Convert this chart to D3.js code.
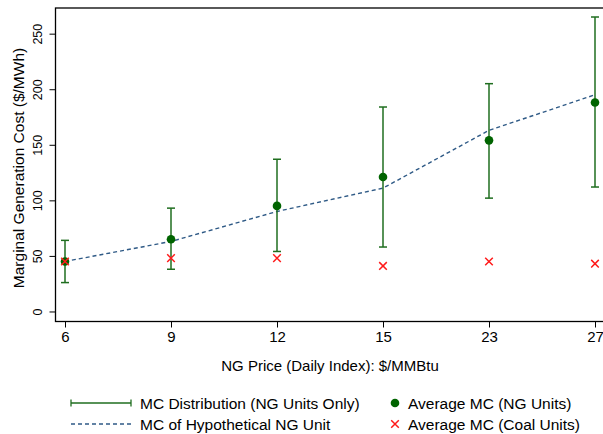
<!DOCTYPE html>
<html>
<head>
<meta charset="utf-8">
<script src="https://cdn.jsdelivr.net/npm/d3@7"></script>
<style>
  html, body { margin: 0; padding: 0; background: #fff; }
  svg { display: block; font-family: "Liberation Sans", Arial, Helvetica, sans-serif; }
</style>
</head>
<body>
<svg id="chart" width="603" height="434"></svg>
<script>
// ---- data ----
const categories = ["6", "9", "12", "15", "23", "27"];
const avgNG = [45, 65, 95, 121, 154, 188];
const avgCoal = [45, 48, 48, 41, 45, 43];
const hypotheticalNG = [45, 63, 90, 111, 163, 195];
const distLow = [26, 38, 54, 58, 102, 112];
const distHigh = [64, 93, 137, 184, 205, 265];
const yTicks = [0, 50, 100, 150, 200, 250];
const legendLabels = ["MC Distribution (NG Units Only)", "MC of Hypothetical NG Unit", "Average MC (NG Units)", "Average MC (Coal Units)"];

const svg = d3.select("#chart");
const plot = { left: 55.5, top: 8, right: 612, bottom: 321.5 };

const x = d3.scalePoint().domain(categories).range([65, 595]);
const y = d3.scaleLinear().domain([-9.2, 273.1]).range([321.7, 8]);

const green = "#1f6e1f", dotGreen = "#006400", red = "#ff1a1a", blue = "#2f5a86";

// frame
svg.append("rect")
  .attr("x", plot.left).attr("y", plot.top)
  .attr("width", plot.right - plot.left).attr("height", plot.bottom - plot.top)
  .attr("fill", "none").attr("stroke", "#000").attr("stroke-width", 1.3);

// y axis
const yAxis = svg.append("g").attr("transform", `translate(${plot.left},0)`)
  .call(d3.axisLeft(y).tickValues(yTicks).tickSize(6).tickPadding(3));
yAxis.select(".domain").remove();
yAxis.selectAll(".tick line").attr("stroke", "#000");
yAxis.selectAll(".tick text")
  .attr("font-size", 12.5).attr("fill", "#000")
  .attr("text-anchor", "middle")
  .attr("transform", "rotate(-90)")
  .attr("x", 0).attr("y", -14).attr("dy", "0");

// x axis
const xAxis = svg.append("g").attr("transform", `translate(0,${plot.bottom})`)
  .call(d3.axisBottom(x).tickSize(6).tickPadding(4));
xAxis.select(".domain").remove();
xAxis.selectAll(".tick line").attr("stroke", "#000");
xAxis.selectAll(".tick text").attr("font-size", 15).attr("fill", "#000");

// axis titles
svg.append("text")
  .attr("transform", `translate(24,168) rotate(-90)`)
  .attr("text-anchor", "middle").attr("font-size", 15.5)
  .text("Marginal Generation Cost ($/MWh)");
svg.append("text")
  .attr("x", 330).attr("y", 371)
  .attr("text-anchor", "middle").attr("font-size", 15)
  .text("NG Price (Daily Index): $/MMBtu");

const g = svg.append("g");

// hypothetical line
g.append("path")
  .datum(categories.map((c, i) => [x(c), y(hypotheticalNG[i])]))
  .attr("d", d3.line())
  .attr("fill", "none").attr("stroke", blue)
  .attr("stroke-width", 1.4).attr("stroke-dasharray", "4,3");

// error bars
const cap = 4;
categories.forEach((c, i) => {
  const cx = x(c);
  g.append("line").attr("x1", cx).attr("x2", cx)
    .attr("y1", y(distLow[i])).attr("y2", y(distHigh[i]))
    .attr("stroke", green).attr("stroke-width", 1.5);
  [distLow[i], distHigh[i]].forEach(v => {
    g.append("line").attr("x1", cx - cap).attr("x2", cx + cap)
      .attr("y1", y(v)).attr("y2", y(v))
      .attr("stroke", green).attr("stroke-width", 1.5);
  });
});

// NG dots
g.selectAll("circle.ng").data(categories).enter().append("circle")
  .attr("cx", d => x(d)).attr("cy", (d, i) => y(avgNG[i]))
  .attr("r", 4.3).attr("fill", dotGreen);

// coal crosses
const xs = 3.8;
g.selectAll("path.coal").data(categories).enter().append("path")
  .attr("d", (d, i) => {
    const cx = x(d), cy = y(avgCoal[i]);
    return `M${cx - xs},${cy - xs}L${cx + xs},${cy + xs}M${cx - xs},${cy + xs}L${cx + xs},${cy - xs}`;
  })
  .attr("stroke", red).attr("stroke-width", 1.5).attr("fill", "none");

// legend
const lg = svg.append("g");
const row1 = 403, row2 = 424;
lg.append("line").attr("x1", 71).attr("x2", 131).attr("y1", row1).attr("y2", row1)
  .attr("stroke", green).attr("stroke-width", 1.5);
[71, 131].forEach(xx => lg.append("line").attr("x1", xx).attr("x2", xx)
  .attr("y1", row1 - 3.5).attr("y2", row1 + 3.5).attr("stroke", green).attr("stroke-width", 1.3));
lg.append("line").attr("x1", 71).attr("x2", 131).attr("y1", row2).attr("y2", row2)
  .attr("stroke", blue).attr("stroke-width", 1.4).attr("stroke-dasharray", "4,3");
lg.append("circle").attr("cx", 395).attr("cy", row1).attr("r", 4.3).attr("fill", dotGreen);
lg.append("path")
  .attr("d", `M${395 - xs},${row2 - xs}L${395 + xs},${row2 + xs}M${395 - xs},${row2 + xs}L${395 + xs},${row2 - xs}`)
  .attr("stroke", red).attr("stroke-width", 1.5);
const lt = [[140, row1], [140, row2], [408, row1], [408, row2]];
legendLabels.forEach((t, i) => {
  lg.append("text").attr("x", lt[i][0]).attr("y", lt[i][1] + 5.5)
    .attr("font-size", 15.5).text(t);
});
</script>
</body>
</html>
